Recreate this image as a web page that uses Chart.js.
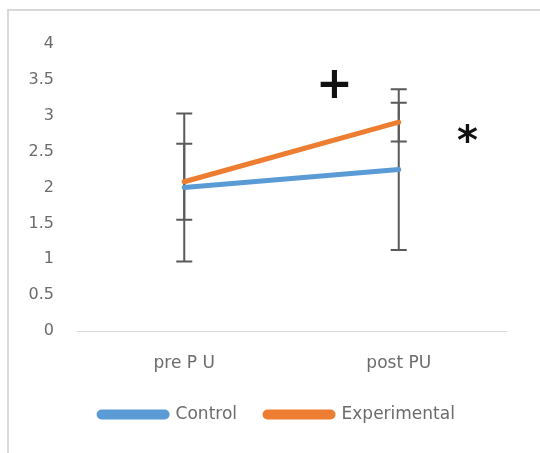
<!DOCTYPE html>
<html>
<head>
<meta charset="utf-8">
<script src="https://cdn.jsdelivr.net/npm/chart.js@4/dist/chart.umd.min.js"></script>
<style>
  html, body { margin: 0; padding: 0; background: #ffffff; }
  #wrap { position: relative; width: 540px; height: 453px; overflow: hidden; }
  #frame { position: absolute; left: 7px; top: 9px; width: 600px; height: 500px;
           border-top: 2px solid #d9d9d9; border-left: 2px solid #d9d9d9; }
  canvas { position: absolute; left: 0; top: 0; }
</style>
</head>
<body>
<div id="wrap">
  <div id="frame"></div>
  <canvas id="c" width="540" height="453"></canvas>
</div>
<script>
// Session labels and group means with their spreads
const categories = ['pre P U', 'post PU'];
const controlMeans = [2.0, 2.25];
const controlErr = [1.03, 1.12];
const experimentalMeans = [2.08, 2.91];
const experimentalErr = [0.53, 0.27];
const yTicks = [0, 0.5, 1, 1.5, 2, 2.5, 3, 3.5, 4];

// Significance marks: [symbol, category position, y value]
const marks = [
  ['+', 0.7, 3.41],
  ['*', 1.32, 2.61]
];

const FONT = '"DejaVu Sans", sans-serif';
const TEXT_GREY = '#6b6b6b';

// Vertical whiskers with caps, drawn beneath the lines
const errorBars = {
  id: 'errorBars',
  beforeDatasetsDraw(chart) {
    const { ctx, scales: { x, y } } = chart;
    const groups = [[controlMeans, controlErr], [experimentalMeans, experimentalErr]];
    ctx.save();
    ctx.strokeStyle = '#5a5a5a';
    ctx.lineWidth = 2;
    groups.forEach(([means, errs]) => {
      means.forEach((m, i) => {
        const px = x.getPixelForValue(i);
        const top = y.getPixelForValue(m + errs[i]);
        const bot = y.getPixelForValue(m - errs[i]);
        ctx.beginPath();
        ctx.moveTo(px, top); ctx.lineTo(px, bot);
        ctx.moveTo(px - 8, top); ctx.lineTo(px + 8, top);
        ctx.moveTo(px - 8, bot); ctx.lineTo(px + 8, bot);
        ctx.stroke();
      });
    });
    ctx.restore();
  }
};

const sigMarks = {
  id: 'sigMarks',
  afterDatasetsDraw(chart) {
    const { ctx, scales: { x, y } } = chart;
    ctx.save();
    ctx.fillStyle = '#111111';
    ctx.textAlign = 'center';
    ctx.textBaseline = 'middle';
    marks.forEach(([sym, cx, cy]) => {
      ctx.font = sym === '+' ? 'bold 44px "DejaVu Sans", sans-serif' : 'bold 40px "DejaVu Sans", sans-serif';
      ctx.fillText(sym, x.getPixelForValue(cx), y.getPixelForValue(cy));
    });
    ctx.restore();
  }
};

new Chart(document.getElementById('c'), {
  type: 'line',
  data: {
    labels: categories,
    datasets: [
      { label: 'Control', data: controlMeans, borderColor: '#5b9bd5', backgroundColor: '#5b9bd5',
        borderWidth: 5, pointRadius: 0, borderCapStyle: 'round', tension: 0 },
      { label: 'Experimental', data: experimentalMeans, borderColor: '#ed7d31', backgroundColor: '#ed7d31',
        borderWidth: 5, pointRadius: 0, borderCapStyle: 'round', tension: 0 }
    ]
  },
  options: {
    responsive: false,
    animation: false,
    layout: { padding: { top: 44, right: 0, bottom: 20, left: 14 } },
    plugins: {
      tooltip: { enabled: false },
      legend: {
        position: 'bottom',
        labels: {
          boxWidth: 68, boxHeight: 5, useBorderRadius: true, borderRadius: 2.5,
          padding: 28, color: TEXT_GREY, font: { family: FONT, size: 17 }
        }
      }
    },
    scales: {
      x: {
        offset: true,
        afterFit(scale) { scale.height = 47; },
        grid: { display: false, drawTicks: false },
        border: { display: true, color: '#d9d9d9', width: 1 },
        ticks: { color: TEXT_GREY, font: { family: FONT, size: 17 }, padding: 22 }
      },
      y: {
        min: 0, max: 4,
        afterBuildTicks(scale) { scale.ticks = yTicks.map(v => ({ value: v })); },
        afterFit(scale) { scale.width = 63; },
        grid: { display: false, drawTicks: false },
        border: { display: false },
        ticks: { color: TEXT_GREY, font: { family: FONT, size: 16 }, padding: 23,
                 callback: v => String(v) }
      },
      // empty right-hand margin beside the plot
      gap: {
        position: 'right',
        min: 0, max: 1,
        afterFit(scale) { scale.width = 34; },
        grid: { display: false, drawTicks: false },
        border: { display: false },
        ticks: { display: false }
      }
    }
  },
  plugins: [errorBars, sigMarks]
});
</script>
</body>
</html>
